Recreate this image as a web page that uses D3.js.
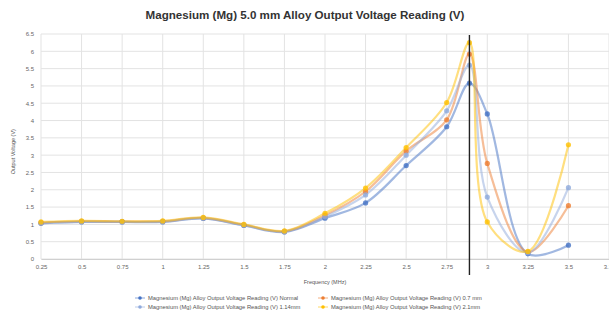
<!DOCTYPE html>
<html>
<head>
<meta charset="utf-8">
<script src="https://cdn.jsdelivr.net/npm/d3@7"></script>
<style>
  body { margin: 0; background: #fff; }
  text { font-family: "Liberation Sans Narrow", "Liberation Sans", sans-serif; }
</style>
</head>
<body>
<div id="chart"></div>
<script>
// frequency (MHz) of each reading; 2.89 is the peak reading
const freqs = [0.25, 0.5, 0.75, 1, 1.25, 1.5, 1.75, 2, 2.25, 2.5, 2.75, 2.89, 3, 3.25, 3.5];
const normal = [1.03, 1.07, 1.07, 1.07, 1.17, 0.97, 0.78, 1.18, 1.62, 2.70, 3.82, 5.08, 4.19, 0.15, 0.40];
const mm07   = [1.05, 1.09, 1.08, 1.09, 1.19, 0.99, 0.80, 1.26, 1.95, 3.12, 4.02, 5.92, 2.76, 0.20, 1.54];
const mm114  = [1.04, 1.08, 1.07, 1.08, 1.18, 0.98, 0.79, 1.22, 1.85, 3.00, 4.28, 5.60, 1.79, 0.18, 2.06];
const mm21   = [1.07, 1.10, 1.09, 1.10, 1.20, 1.00, 0.81, 1.32, 2.05, 3.22, 4.52, 6.25, 1.07, 0.22, 3.30];
const xTicks = [0.25, 0.5, 0.75, 1, 1.25, 1.5, 1.75, 2, 2.25, 2.5, 2.75, 3, 3.25, 3.5, 3.75];
const yTicks = d3.range(0, 6.51, 0.5);
const markerFreq = 2.89;

const series = [
  { name: 'Magnesium (Mg) Alloy Output Voltage Reading (V) Normal', values: normal, color: '#4472C4' },
  { name: 'Magnesium (Mg) Alloy Output Voltage Reading (V) 0.7 mm', values: mm07, color: '#ED7D31' },
  { name: 'Magnesium (Mg) Alloy Output Voltage Reading (V) 1.14mm', values: mm114, color: '#8FAADC' },
  { name: 'Magnesium (Mg) Alloy Output Voltage Reading (V) 2.1mm', values: mm21, color: '#FFC000' }
];

const width = 609, height = 325;
const svg = d3.select('#chart').append('svg')
  .attr('width', width).attr('height', height);

const x = d3.scaleLinear().domain([0.25, 3.75]).range([41, 609]);
const y = d3.scaleLinear().domain([0, 6.5]).range([259, 34]);

// title
svg.append('text')
  .attr('x', 305).attr('y', 19)
  .attr('text-anchor', 'middle')
  .style('font-size', '11.6px').style('font-weight', 'bold').style('fill', '#333')
  .text('Magnesium (Mg) 5.0 mm Alloy Output Voltage Reading (V)');

// gridlines
svg.append('g').selectAll('line').data(yTicks).enter().append('line')
  .attr('x1', 41).attr('x2', 609)
  .attr('y1', d => y(d)).attr('y2', d => y(d))
  .attr('stroke', '#e3e3e3').attr('stroke-width', 1);
svg.append('g').selectAll('line').data(xTicks).enter().append('line')
  .attr('x1', d => x(d)).attr('x2', d => x(d))
  .attr('y1', y(0)).attr('y2', y(6.5))
  .attr('stroke', '#e3e3e3').attr('stroke-width', 1);

// y axis
const yAxis = svg.append('g')
  .attr('transform', 'translate(41,0)')
  .call(d3.axisLeft(y).tickValues(yTicks).tickSize(0).tickPadding(7).tickFormat(d3.format('')));
yAxis.select('.domain').remove();
yAxis.selectAll('text').style('font-size', '6px').style('fill', '#666');

// x axis
const xAxis = svg.append('g')
  .attr('transform', `translate(0,${y(0)})`)
  .call(d3.axisBottom(x).tickValues(xTicks).tickSize(0).tickPadding(6).tickFormat(d3.format('')));
xAxis.select('.domain').attr('stroke', '#d0d0d0');
xAxis.selectAll('text').style('font-size', '6px').style('fill', '#666');

// axis titles
svg.append('text')
  .attr('transform', 'translate(15,' + y(3.1) + ') rotate(-90)')
  .attr('text-anchor', 'middle')
  .style('font-size', '5.5px').style('fill', '#555')
  .text('Output Voltage (V)');
svg.append('text')
  .attr('x', 325).attr('y', 284)
  .attr('text-anchor', 'middle')
  .style('font-size', '5.5px').style('fill', '#555')
  .text('Frequency (MHz)');

// smoothed lines and markers
const line = d3.line()
  .x((d, i) => x(freqs[i]))
  .y(d => y(d))
  .curve(d3.curveCatmullRom.alpha(0.5));

series.forEach(s => {
  svg.append('path')
    .datum(s.values)
    .attr('d', line)
    .attr('fill', 'none')
    .attr('stroke', s.color)
    .attr('stroke-width', 2.2)
    .attr('stroke-opacity', 0.5);
});
series.forEach(s => {
  svg.append('g').selectAll('circle').data(s.values).enter().append('circle')
    .attr('cx', (d, i) => x(freqs[i]))
    .attr('cy', d => y(d))
    .attr('r', 2.6)
    .attr('fill', s.color)
    .attr('fill-opacity', 0.8);
});

// resonance marker line
svg.append('line')
  .attr('x1', x(markerFreq)).attr('x2', x(markerFreq))
  .attr('y1', 35).attr('y2', 275)
  .attr('stroke', '#222').attr('stroke-width', 1.4);

// legend
const legendPos = [[140, 298], [323, 298], [140, 307], [323, 307]];
series.forEach((s, i) => {
  const g = svg.append('g').attr('transform', `translate(${legendPos[i][0]},${legendPos[i][1]})`);
  g.append('line').attr('x1', -5).attr('x2', 5).attr('y1', 0).attr('y2', 0)
    .attr('stroke', s.color).attr('stroke-width', 1).attr('stroke-opacity', 0.6);
  g.append('circle').attr('r', 1.8).attr('fill', s.color);
  g.append('text').attr('x', 8).attr('y', 2)
    .style('font-size', '5.8px').style('fill', '#555')
    .text(s.name);
});
</script>
</body>
</html>
